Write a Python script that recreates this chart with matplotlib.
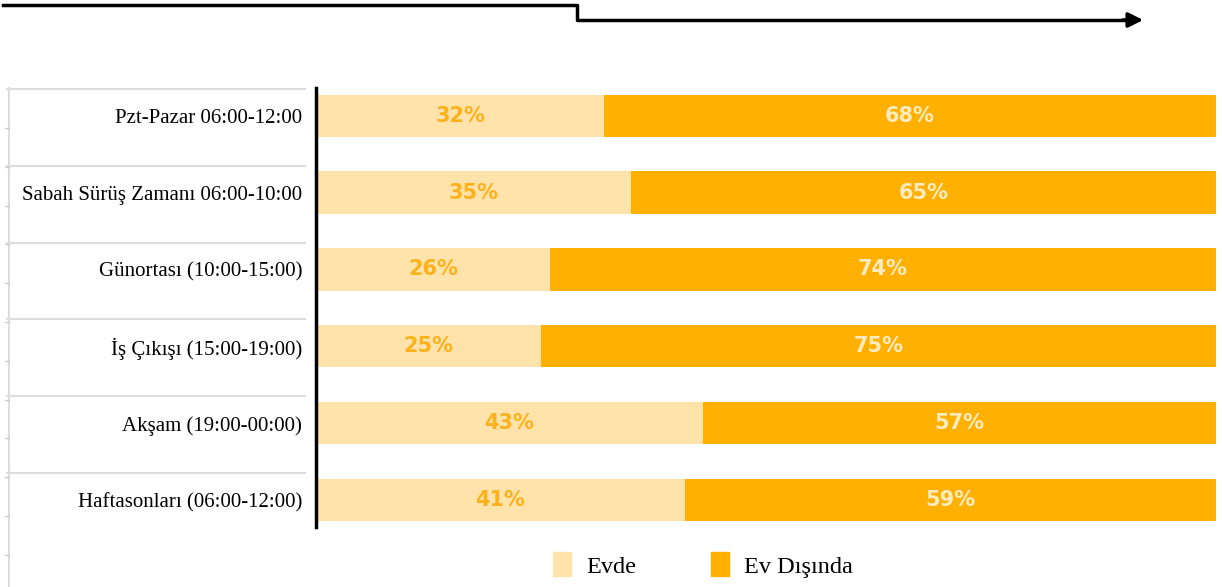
import numpy as np
import matplotlib
matplotlib.use('Agg')
import matplotlib.pyplot as plt
from matplotlib.patches import Patch

categories = [
    "Pzt-Pazar 06:00-12:00",
    "Sabah Sürüş Zamanı 06:00-10:00",
    "Günortası (10:00-15:00)",
    "İş Çıkışı (15:00-19:00)",
    "Akşam (19:00-00:00)",
    "Haftasonları (06:00-12:00)",
]
evde = [32, 35, 26, 25, 43, 41]
ev_disinda = [68, 65, 74, 75, 57, 59]
series_names = ["Evde", "Ev Dışında"]

light = '#FFE3AA'
dark = '#FFB000'
pct_font = ['Liberation Sans Narrow', 'DejaVu Sans Condensed', 'DejaVu Sans']

W, H = 1222, 587
fig = plt.figure(figsize=(W / 100, H / 100), dpi=100)

# main bar axes (pixel box: x 316..1216, y 88..527)
ax = fig.add_axes([316 / W, 1 - 527 / H, 900 / W, 439 / H])
y = np.arange(len(categories))
ax.barh(y, evde, height=0.55, color=light)
ax.barh(y, ev_disinda, left=evde, height=0.55, color=dark)

for i in range(len(categories)):
    ax.text(evde[i] / 2, y[i], f"{evde[i]}%", ha='center', va='center',
            color='#FDB21C', fontsize=15, fontweight='bold', family=pct_font)
    ax.text(evde[i] + ev_disinda[i] / 2, y[i], f"{ev_disinda[i]}%", ha='center', va='center',
            color='#FFEBC0', fontsize=15, fontweight='bold', family=pct_font)

ax.set_xlim(0, 100)
ax.set_ylim(len(categories) - 0.65, -0.36)
ax.set_yticks(y)
ax.set_yticklabels(categories, family='Liberation Serif', fontsize=15)
ax.tick_params(axis='y', length=0, pad=10)
ax.set_xticks([])
for side in ['top', 'right', 'bottom']:
    ax.spines[side].set_visible(False)
ax.spines['left'].set_linewidth(2.5)
ax.spines['left'].set_color('black')

# separator lines in the label area
trans = matplotlib.transforms.blended_transform_factory(ax.transAxes, ax.transData)
for i in range(len(categories)):
    ax.plot([-0.343, -0.012], [y[i] - 0.35, y[i] - 0.35], color='#DDDDDD',
            lw=1.5, transform=trans, clip_on=False)

# overlay in pixel coords for decorations
ov = fig.add_axes([0, 0, 1, 1], facecolor='none')
ov.set_xlim(0, W)
ov.set_ylim(H, 0)
ov.axis('off')
ov.plot([9, 9], [88, H], color='#DDDDDD', lw=1.5)
for ty in np.arange(128, H, 38.8):
    ov.plot([5, 9], [ty, ty], color='#CCCCCC', lw=1)
ov.plot([3, 577, 577, 1135], [5, 5, 20, 20], color='black', lw=2.5)
ov.annotate('', xy=(1146, 20), xytext=(1120, 20),
            arrowprops=dict(arrowstyle='-|>', color='black', lw=2.5, mutation_scale=22))

handles = [Patch(color=light), Patch(color=dark)]
fig.legend(handles, series_names, loc='center', bbox_to_anchor=(703 / W, 1 - 565 / H),
           ncol=2, frameon=False, prop={'family': 'Liberation Serif', 'size': 17.5},
           handlelength=0.75, handleheight=1.15, columnspacing=3.1, handletextpad=0.6)

fig.savefig('out.png', dpi=100)
